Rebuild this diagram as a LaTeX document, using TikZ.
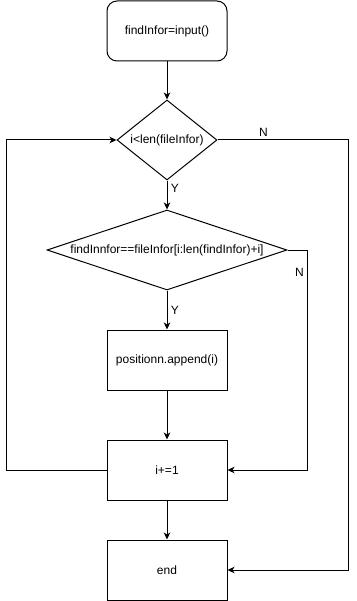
\documentclass[tikz,border=0pt]{standalone}
\usepackage{fontspec}
\setmainfont{Liberation Sans}
\usetikzlibrary{shapes.geometric, arrows.meta}

\begin{document}
\begin{tikzpicture}[x=1pt, y=-1pt, line width=1pt,
    font=\fontsize{12}{14}\selectfont,
    procbox/.style={draw, rectangle, minimum width=120pt, minimum height=60pt, inner sep=0pt},
    condbox/.style={draw, diamond, inner sep=0pt},
    flow/.style={-{Stealth[length=7pt, width=6.5pt, inset=2pt]}}]

    \useasboundingbox (0,0) rectangle (356,601);

    \def\xc{167}
    \def\rail{100}

    % --- Steps ---
    \node[procbox, rounded corners=10pt] (start) at (\xc,31) {findInfor=input()};
    \node[condbox, minimum width=100pt, minimum height=80pt] (cond1) at (\xc,140)
        {\makebox[0pt]{i<len(fileInfor)}};
    \node[condbox, minimum width=240pt, minimum height=80pt] (cond2) at (\xc,250)
        {\makebox[0pt]{findInnfor==fileInfor[i:len(findInfor)+i]}};
    \node[procbox] (append) at (\xc,360) {positionn.append(i)};
    \node[procbox] (incr) at (\xc,470) {i+=1};
    \node[procbox] (stop) at (\xc,570) {end};

    % --- Main flow ---
    \draw[flow] (start) -- (cond1);
    \draw[flow] (cond1) -- node[pos=0.27, right]{Y} (cond2);
    \draw[flow] (cond2) -- node[right]{Y} (append);
    \draw[flow] (append) -- (incr);
    \draw[flow] (incr) -- (stop);

    % --- Branches and loop ---
    \draw[flow] (cond1.east) -- node[pos=0.35, above]{N} ++(131,0) |- (stop.east);
    \draw[flow] (cond2.east) -- ++(20,0) |- node[pos=0.05, left]{N} (incr.east);
    \draw[flow] (incr.west) -- ++(-\rail,0) |- (cond1.west);

\end{tikzpicture}
\end{document}
